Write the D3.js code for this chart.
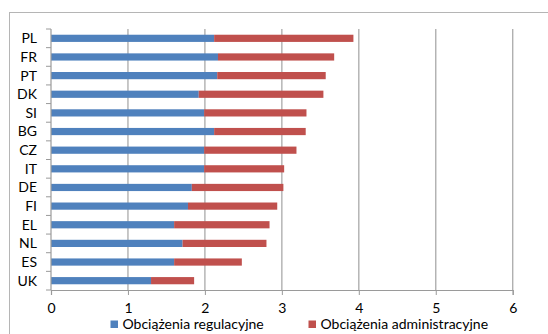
<!DOCTYPE html>
<html>
<head>
<meta charset="utf-8">
<script src="https://cdn.jsdelivr.net/npm/d3@7"></script>
<style>
  html, body { margin: 0; padding: 0; background: #fff; }
  svg { display: block; font-family: Lato, "Open Sans", sans-serif; }
</style>
</head>
<body>
<svg id="chart" width="548" height="334"></svg>
<script>
// Country codes, top to bottom
const countries = ["PL", "FR", "PT", "DK", "SI", "BG", "CZ", "IT", "DE", "FI", "EL", "NL", "ES", "UK"];
// Regulatory burden per country
const regulacyjne = [2.12, 2.17, 2.16, 1.92, 1.99, 2.12, 1.99, 1.99, 1.83, 1.78, 1.60, 1.71, 1.60, 1.30];
// Administrative burden per country (stacked after the regulatory part)
const administracyjne = [1.81, 1.51, 1.41, 1.62, 1.33, 1.19, 1.20, 1.04, 1.19, 1.16, 1.24, 1.09, 0.88, 0.56];
const xTicks = [0, 1, 2, 3, 4, 5, 6];
const seriesNames = ["Obciążenia regulacyjne", "Obciążenia administracyjne"];
const seriesColors = ["#4F81BD", "#C0504D"];

const svg = d3.select("#chart");
const margin = { left: 51, top: 29 };
const W = 548, H = 334;
const axisY = 290;

// Outer frame
svg.append("rect")
  .attr("x", 9.5).attr("y", 12.5)
  .attr("width", W).attr("height", H)
  .attr("fill", "none").attr("stroke", "#b5b5b5").attr("stroke-width", 1);

const x = d3.scaleLinear().domain([0, 6]).range([margin.left, 512.7]);
const yEdge = d3.scaleBand().domain(countries).range([margin.top, axisY]);

// Vertical gridlines
svg.append("g").selectAll("line").data(xTicks.slice(1)).join("line")
  .attr("x1", d => x(d)).attr("x2", d => x(d))
  .attr("y1", margin.top).attr("y2", axisY)
  .attr("stroke", "#b0b0b0").attr("stroke-width", 1.4);

// Stacked data
const rows = countries.map((c, i) => ({ c, a: regulacyjne[i], b: administracyjne[i] }));
const stack = d3.stack().keys(["a", "b"])(rows);

svg.append("g").selectAll("g").data(stack).join("g")
  .attr("fill", (d, i) => seriesColors[i])
  .selectAll("rect").data(d => d).join("rect")
  .attr("x", d => x(d[0]))
  .attr("width", d => x(d[1]) - x(d[0]))
  .attr("y", d => yEdge(d.data.c) + yEdge.bandwidth() / 2 - 3.6)
  .attr("height", 7.2);

// Bottom axis
const xAxis = svg.append("g").attr("transform", `translate(0,${axisY})`)
  .call(d3.axisBottom(x).tickValues(xTicks).tickSize(5).tickPadding(8).tickFormat(d3.format("d")));
xAxis.select(".domain").attr("stroke", "#9a9a9a").attr("stroke-width", 1.2);
xAxis.selectAll(".tick line").attr("stroke", "#9a9a9a");
xAxis.selectAll("text").attr("font-size", 14).attr("fill", "#000").attr("font-family", "Lato, sans-serif");

// Left axis: ticks at category boundaries, labels centered in bands
const yAxisG = svg.append("g").attr("transform", `translate(${margin.left},0)`);
yAxisG.append("line").attr("x1", 0).attr("x2", 0).attr("y1", margin.top).attr("y2", axisY)
  .attr("stroke", "#9a9a9a").attr("stroke-width", 1.2);
const edges = countries.map(c => yEdge(c)).concat([axisY]);
yAxisG.selectAll("line.t").data(edges).join("line").attr("class", "t")
  .attr("x1", -5).attr("x2", 0).attr("y1", d => d).attr("y2", d => d)
  .attr("stroke", "#9a9a9a");
yAxisG.selectAll("text").data(countries).join("text")
  .attr("x", -14).attr("y", d => yEdge(d) + yEdge.bandwidth() / 2)
  .attr("dy", "0.35em").attr("text-anchor", "end")
  .attr("font-size", 14).attr("fill", "#000")
  .text(d => d);

// Legend
const legendX = [110.5, 308.5];
const legend = svg.append("g");
seriesNames.forEach((name, i) => {
  legend.append("rect").attr("x", legendX[i]).attr("y", 320.5).attr("width", 7.5).attr("height", 7.5)
    .attr("fill", seriesColors[i]);
  legend.append("text").attr("x", legendX[i] + 12).attr("y", 324.5).attr("dy", "0.35em")
    .attr("font-size", 14).attr("fill", "#000").text(name);
});
</script>
</body>
</html>
